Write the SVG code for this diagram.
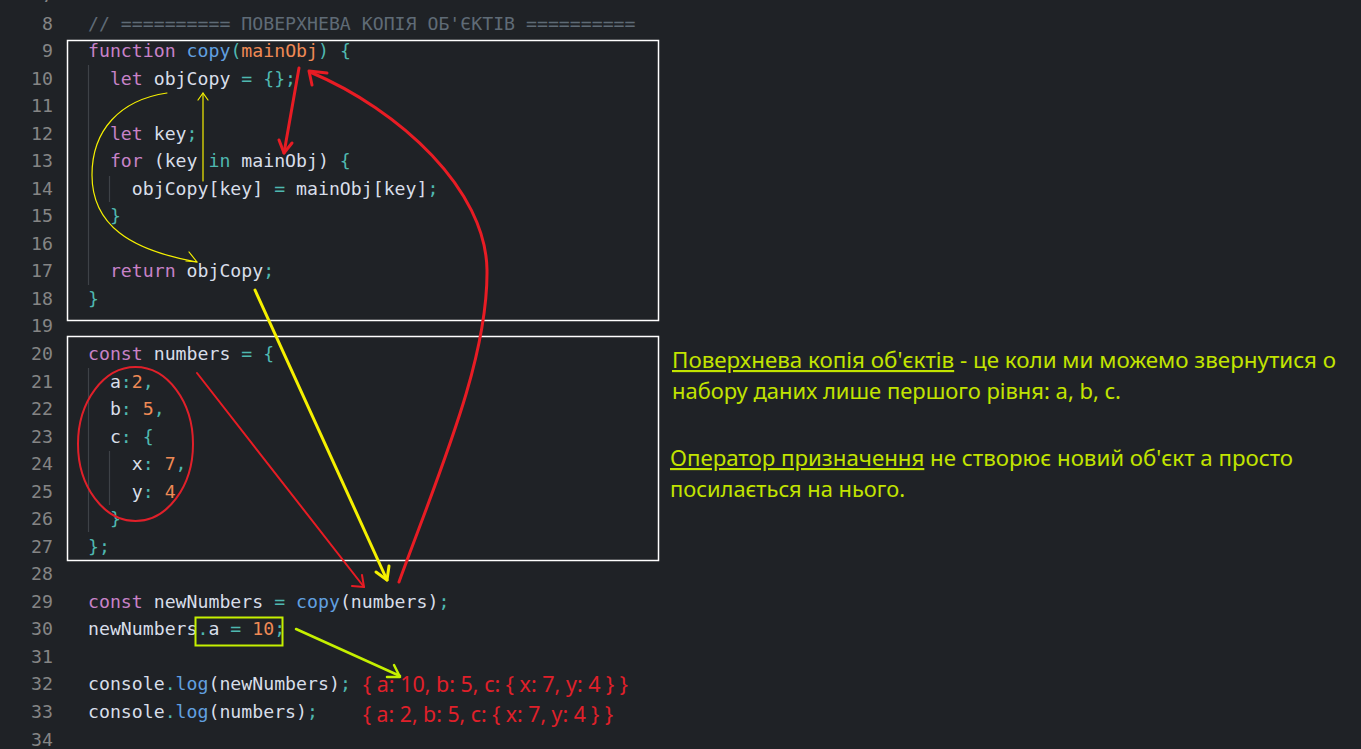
<svg xmlns="http://www.w3.org/2000/svg" width="1361" height="749" viewBox="0 0 1361 749">
<style>
.code{font-family:"DejaVu Sans Mono","Liberation Mono",monospace;font-size:18.2px;fill:#d8dee9}
.ln{font-family:"DejaVu Sans Mono","Liberation Mono",monospace;font-size:18.2px;fill:#858585;text-anchor:end}
.kw{fill:#c882c8}.fn{fill:#61a0e0}.pm{fill:#ef8a55}.pu{fill:#4fb8b0}.nu{fill:#ef8a55}.cm{fill:#5f6b76}
.guide{stroke:#3e4247;stroke-width:1.2}
.box{fill:none;stroke:#ffffff;stroke-width:1.5}
.red{fill:none;stroke:#e81c24;stroke-width:3;stroke-linecap:round;stroke-linejoin:round}
.redthin{fill:none;stroke:#e81c24;stroke-width:2;stroke-linecap:round;stroke-linejoin:round}
.yel{fill:none;stroke:#f5f000;stroke-width:3;stroke-linecap:round;stroke-linejoin:round}
.yelthin{fill:none;stroke:#f5f000;stroke-width:1.2;stroke-linecap:round;stroke-linejoin:round}
.grn{fill:none;stroke:#c5f000;stroke-width:2.5;stroke-linecap:round;stroke-linejoin:round}
.out{font-family:"Noto Sans","Open Sans",sans-serif;font-size:21px;fill:#e0202a}
.note{font-family:"Noto Sans","Open Sans",sans-serif;font-size:21.5px;fill:#c2e400}
</style>
<rect width="1361" height="749" fill="#1f2226"/>

<g id="line-numbers">
<text class="ln" x="53" y="1.9">7</text>
<text class="ln" x="53" y="29.5">8</text>
<text class="ln" x="53" y="57">9</text>
<text class="ln" x="53" y="84.5">10</text>
<text class="ln" x="53" y="112.1">11</text>
<text class="ln" x="53" y="139.6">12</text>
<text class="ln" x="53" y="167.2">13</text>
<text class="ln" x="53" y="194.7">14</text>
<text class="ln" x="53" y="222.2">15</text>
<text class="ln" x="53" y="249.8">16</text>
<text class="ln" x="53" y="277.3">17</text>
<text class="ln" x="53" y="304.9">18</text>
<text class="ln" x="53" y="332.4">19</text>
<text class="ln" x="53" y="359.9">20</text>
<text class="ln" x="53" y="387.5">21</text>
<text class="ln" x="53" y="415">22</text>
<text class="ln" x="53" y="442.6">23</text>
<text class="ln" x="53" y="470.1">24</text>
<text class="ln" x="53" y="497.6">25</text>
<text class="ln" x="53" y="525.2">26</text>
<text class="ln" x="53" y="552.7">27</text>
<text class="ln" x="53" y="580.3">28</text>
<text class="ln" x="53" y="607.8">29</text>
<text class="ln" x="53" y="635.3">30</text>
<text class="ln" x="53" y="662.9">31</text>
<text class="ln" x="53" y="690.4">32</text>
<text class="ln" x="53" y="718">33</text>
<text class="ln" x="53" y="745.5">34</text>
</g>

<g id="guides">
<line class="guide" x1="88.5" y1="65" x2="88.5" y2="285"/>
<line class="guide" x1="109.5" y1="176" x2="109.5" y2="202"/>
<line class="guide" x1="88.5" y1="368" x2="88.5" y2="532"/>
<line class="guide" x1="109.5" y1="451" x2="109.5" y2="505"/>
</g>

<g id="code" xml:space="preserve">
<text class="code cm" x="88" y="29.5">// ========== ПОВЕРХНЕВА КОПІЯ ОБ'ЄКТІВ ==========</text>
<text class="code" x="88" y="57"><tspan class="kw">function</tspan> <tspan class="fn">copy</tspan><tspan class="pu">(</tspan><tspan class="pm">mainObj</tspan><tspan class="pu">)</tspan> <tspan class="pu">{</tspan></text>
<text class="code" x="109.9" y="84.5"><tspan class="kw">let</tspan> objCopy <tspan class="pu">=</tspan> <tspan class="pu">{};</tspan></text>
<text class="code" x="109.9" y="139.6"><tspan class="kw">let</tspan> key<tspan class="pu">;</tspan></text>
<text class="code" x="109.9" y="167.2"><tspan class="kw">for</tspan> (key <tspan class="pu">in</tspan> mainObj) <tspan class="pu">{</tspan></text>
<text class="code" x="131.8" y="194.7">objCopy[key] <tspan class="pu">=</tspan> mainObj[key]<tspan class="pu">;</tspan></text>
<text class="code pu" x="109.9" y="222.2">}</text>
<text class="code" x="109.9" y="277.3"><tspan class="kw">return</tspan> objCopy<tspan class="pu">;</tspan></text>
<text class="code pu" x="88" y="304.9">}</text>
<text class="code" x="88" y="359.9"><tspan class="kw">const</tspan> numbers <tspan class="pu">=</tspan> <tspan class="pu">{</tspan></text>
<text class="code" x="109.9" y="387.5">a<tspan class="pu">:</tspan><tspan class="nu">2</tspan><tspan class="pu">,</tspan></text>
<text class="code" x="109.9" y="415">b<tspan class="pu">:</tspan> <tspan class="nu">5</tspan><tspan class="pu">,</tspan></text>
<text class="code" x="109.9" y="442.6">c<tspan class="pu">:</tspan> <tspan class="pu">{</tspan></text>
<text class="code" x="131.8" y="470.1">x<tspan class="pu">:</tspan> <tspan class="nu">7</tspan><tspan class="pu">,</tspan></text>
<text class="code" x="131.8" y="497.6">y<tspan class="pu">:</tspan> <tspan class="nu">4</tspan></text>
<text class="code pu" x="109.9" y="525.2">}</text>
<text class="code pu" x="88" y="552.7">};</text>
<text class="code" x="88" y="607.8"><tspan class="kw">const</tspan> newNumbers <tspan class="pu">=</tspan> <tspan class="fn">copy</tspan>(numbers)<tspan class="pu">;</tspan></text>
<text class="code" x="88" y="635.3">newNumbers<tspan class="pu">.</tspan>a <tspan class="pu">=</tspan> <tspan class="nu">10</tspan><tspan class="pu">;</tspan></text>
<text class="code" x="88" y="690.4">console<tspan class="pu">.</tspan><tspan class="fn">log</tspan>(newNumbers)<tspan class="pu">;</tspan></text>
<text class="code" x="88" y="718">console<tspan class="pu">.</tspan><tspan class="fn">log</tspan>(numbers)<tspan class="pu">;</tspan></text>
</g>

<g id="box-function">
<rect class="box" x="67.5" y="40.5" width="591" height="280"/>
</g>
<g id="box-numbers">
<rect class="box" x="67.5" y="336.5" width="591" height="224"/>
</g>
<g id="box-assign">
<rect x="195.5" y="617.5" width="87" height="28" fill="none" stroke="#c5f000" stroke-width="2"/>
</g>
<g id="ellipse-first-level">
<ellipse cx="135.5" cy="444" rx="57.5" ry="77" fill="none" stroke="#e0202a" stroke-width="2"/>
</g>

<g id="connectors">
<path class="yelthin" d="M167,93 C120,100 92,130 92,175 C92,225 130,250 197,262"/>
<polyline class="yelthin" points="189,252 197,262 186,261"/>
<line class="yelthin" x1="203" y1="181" x2="203" y2="93"/>
<polyline class="yelthin" points="198,100 203,93 208,100"/>
<line class="red" x1="299" y1="68" x2="284" y2="153"/>
<polyline class="red" points="279,140 284,153 292,143"/>
<path class="red" d="M399,582 C440,470 488,360 487,270 C486,190 400,110 310,72"/>
<polyline class="red" points="327,73 309,71 312,85"/>
<line class="redthin" x1="197" y1="373" x2="364" y2="587"/>
<polyline class="redthin" points="352,586 364,587 362,575"/>
<line class="yel" x1="255" y1="290" x2="387" y2="580"/>
<polyline class="yel" points="376,572 387,580 389,566"/>
<line class="grn" x1="296" y1="629" x2="400" y2="676"/>
<polyline class="grn" points="394,665 400,677 387,677"/>
</g>

<g id="output">
<text class="out" x="363" y="692" textLength="265" lengthAdjust="spacingAndGlyphs">{ a: 10, b: 5, c: { x: 7, y: 4 } }</text>
<text class="out" x="363" y="722" textLength="250" lengthAdjust="spacingAndGlyphs">{ a: 2, b: 5, c: { x: 7, y: 4 } }</text>
</g>

<g id="note">
<text class="note" x="672" y="368" textLength="664" lengthAdjust="spacingAndGlyphs"><tspan text-decoration="underline">Поверхнева копія об'єктів</tspan> - це коли ми можемо звернутися о</text>
<text class="note" x="672" y="399" textLength="449" lengthAdjust="spacingAndGlyphs">набору даних лише першого рівня: a, b, c.</text>
<text class="note" x="670" y="466" textLength="623" lengthAdjust="spacingAndGlyphs"><tspan text-decoration="underline">Оператор призначення</tspan> не створює новий об'єкт а просто</text>
<text class="note" x="670" y="497" textLength="235" lengthAdjust="spacingAndGlyphs">посилається на нього.</text>
</g>
</svg>
